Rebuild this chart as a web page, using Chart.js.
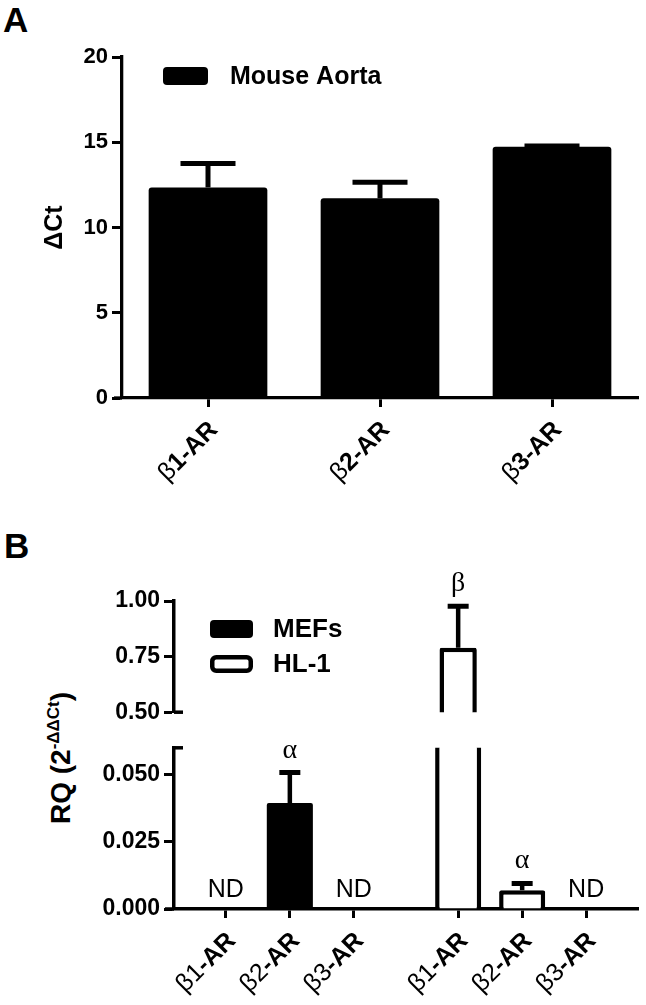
<!DOCTYPE html>
<html>
<head>
<meta charset="utf-8">
<script src="https://cdn.jsdelivr.net/npm/chart.js@4.4.0/dist/chart.umd.min.js"></script>
<style>
  html, body { margin: 0; padding: 0; background: #fff; }
  body { width: 646px; height: 1005px; position: relative; overflow: hidden; font-family: "Liberation Sans", Arial, sans-serif; }
  canvas { position: absolute; left: 0; }
  .panel { position: absolute; font: bold 35px "Liberation Sans", Arial, sans-serif; line-height: 35px; color: #000; }
  #rqTitle { position: absolute; left: -90px; top: 743px; width: 300px; height: 30px; line-height: 30px;
             text-align: center; font: bold 28px "Liberation Sans", Arial, sans-serif; color: #000;
             transform: rotate(-90deg); white-space: nowrap; }
  #rqTitle sup { font-size: 17px; line-height: 0; vertical-align: 11px; }
</style>
</head>
<body>
<div class="panel" style="left:3px;top:2px">A</div>
<div class="panel" style="left:4px;top:528px">B</div>
<div id="rqTitle">RQ (2<sup>-ΔΔCt</sup>)</div>
<canvas id="chartA" width="646" height="500" style="top:0"></canvas>
<canvas id="chartBU" width="646" height="190" style="top:540px"></canvas>
<canvas id="chartBL" width="646" height="275" style="top:730px"></canvas>
<script>
// ---- panel A: mouse aorta, delta Ct ----
const aCategories = ["β1-AR", "β2-AR", "β3-AR"];
const aortaMeans = [12.35, 11.71, 14.73];
const aortaErrTops = [13.76, 12.65, 14.78];   // mean + SEM
const aTicks = [0, 5, 10, 15, 20];

// ---- panel B: RQ in MEFs and HL-1 (null = not detected) ----
const bCategories = ["β1-AR", "β2-AR", "β3-AR"];
const mefMeans = [null, 0.0395, null];
const mefErrTops = [null, 0.0508, null];
const mefMarks = ["ND", "α", "ND"];
const hl1Means = [0.79, 0.007, null];
const hl1ErrTops = [0.976, 0.0095, null];
const hl1Marks = ["β", "α", "ND"];
const upperTicks = [0.5, 0.75, 1.0];
const lowerTicks = [0, 0.025, 0.05];

const INK = "#000";
const SANS = '"Liberation Sans", Arial, sans-serif';
Chart.defaults.font.family = SANS;
Chart.defaults.color = INK;
Chart.defaults.animation = false;

// gap between the MEFs group and the HL-1 group, in bar slots
const GROUP_GAP = 0.63;
const xPos = (group, i) => 1 + group * (bCategories.length + GROUP_GAP) + i;
const bTickPos = [0, 1].flatMap(g => bCategories.map((c, i) => xPos(g, i)));

function splitLabel(label, mode) {
  const cut = mode === "greek" ? 1 : label.indexOf("-");
  return [label.slice(0, cut), label.slice(cut)];
}

// error whiskers (clipped to the plot) and ND / α / β notes
const barNotes = {
  id: "barNotes",
  afterDatasetsDraw(chart, args, o) {
    const {ctx, chartArea: a} = chart;
    const xs = chart.scales.x, ys = chart.scales.y;
    ctx.save();
    ctx.beginPath();
    ctx.rect(a.left, a.top, a.right - a.left, a.bottom - a.top);
    ctx.clip();
    ctx.strokeStyle = INK;
    chart.data.datasets.forEach((ds, di) => {
      if (!ds.errTops) return;
      chart.getDatasetMeta(di).data.forEach((bar, i) => {
        const top = ds.errTops[i];
        if (top == null) return;
        const ye = ys.getPixelForValue(top);
        ctx.lineWidth = o.lineWidth;
        ctx.beginPath(); ctx.moveTo(bar.x, bar.y); ctx.lineTo(bar.x, ye); ctx.stroke();
        ctx.lineWidth = o.capThick;
        ctx.beginPath(); ctx.moveTo(bar.x - o.capWidth / 2, ye); ctx.lineTo(bar.x + o.capWidth / 2, ye); ctx.stroke();
      });
    });
    ctx.restore();

    ctx.save();
    ctx.fillStyle = INK;
    ctx.textAlign = "center";
    ctx.textBaseline = "alphabetic";
    chart.data.datasets.forEach(ds => {
      if (!ds.marks) return;
      ds.marks.forEach((m, i) => {
        if (!m) return;
        const pt = ds.data[i];
        const ref = ds.errTops[i] ?? pt.y ?? 0;
        if (ref < ys.min || ref > ys.max) return;
        const greek = /[α-ω]/.test(m);
        ctx.font = greek ? `${o.greekSize}px "Liberation Serif", serif` : `${o.ndSize}px ${SANS}`;
        ctx.fillText(m, xs.getPixelForValue(pt.x), ys.getPixelForValue(ref) - (greek ? o.greekGap : o.ndGap));
      });
    });
    ctx.restore();
  }
};

// legend boxes drawn inside the plot
const boxLegend = {
  id: "boxLegend",
  afterDraw(chart, args, o) {
    if (!o.show) return;
    const {ctx} = chart;
    ctx.save();
    ctx.font = `bold ${o.size}px ${SANS}`;
    ctx.textBaseline = "middle";
    ctx.textAlign = "left";
    chart.data.datasets.forEach((ds, i) => {
      const y = o.y + i * o.rowGap;
      const bw = ds.borderWidth || 0;
      ctx.beginPath();
      ctx.roundRect(o.x + bw / 2, y + bw / 2, o.boxW - bw, o.boxH - bw, o.radius);
      ctx.fillStyle = ds.backgroundColor;
      ctx.fill();
      if (bw) { ctx.lineWidth = bw; ctx.strokeStyle = ds.borderColor; ctx.stroke(); }
      ctx.fillStyle = INK;
      ctx.fillText(ds.label, o.textX, y + o.boxH / 2 + 1);
    });
    ctx.restore();
  }
};

// rotated category labels, Greek part in regular weight
const xLabels = {
  id: "xLabels",
  afterDraw(chart, args, o) {
    if (!o.labels) return;
    const {ctx} = chart, sc = chart.scales.x;
    ctx.save();
    ctx.fillStyle = INK;
    ctx.textAlign = "right";
    ctx.textBaseline = "middle";
    sc.ticks.forEach((t, i) => {
      const [thin, bold] = splitLabel(o.labels[i], o.split);
      ctx.save();
      ctx.translate(sc.getPixelForTick(i) + o.dx, sc.top + o.dy);
      ctx.rotate(-Math.PI / 4);
      ctx.font = `bold ${o.size}px ${SANS}`;
      ctx.fillText(bold, 0, 0);
      const w = ctx.measureText(bold).width;
      ctx.font = `${o.size}px ${SANS}`;
      ctx.fillText(thin, -w, 0);
      ctx.restore();
    });
    ctx.restore();
  }
};

// x axis stub left of the y axis, and the axis-break marks
const axisDecor = {
  id: "axisDecor",
  afterDraw(chart, args, o) {
    const {ctx, chartArea: a} = chart;
    ctx.save();
    ctx.strokeStyle = INK;
    ctx.lineWidth = o.lineWidth;
    if (o.stub) {
      ctx.beginPath(); ctx.moveTo(a.left - o.stub, a.bottom); ctx.lineTo(a.left, a.bottom); ctx.stroke();
    }
    if (o.breakAt) {
      const y = o.breakAt === "top" ? a.top : a.bottom;
      ctx.beginPath(); ctx.moveTo(a.left, y); ctx.lineTo(a.left + o.breakLen, y); ctx.stroke();
    }
    ctx.restore();
  }
};

Chart.register(barNotes, boxLegend, xLabels, axisDecor);

const tickGrid = len => ({ display: true, drawOnChartArea: false, offset: false, drawTicks: true,
                           tickLength: len, tickWidth: 3, tickColor: INK });
const axisBorder = w => ({ display: true, color: INK, width: w });

// ---------- panel A ----------
new Chart(document.getElementById("chartA"), {
  type: "bar",
  data: {
    labels: aCategories,
    datasets: [{
      label: "Mouse Aorta", data: aortaMeans, errTops: aortaErrTops,
      backgroundColor: INK, borderWidth: 0, borderRadius: 3,
      barPercentage: 0.69, categoryPercentage: 1
    }]
  },
  options: {
    responsive: false,
    layout: { padding: { left: 0, right: 8, top: 57, bottom: 0 } },
    plugins: {
      legend: { display: false }, tooltip: { enabled: false },
      barNotes: { lineWidth: 5, capThick: 5, capWidth: 55 },
      boxLegend: { show: true, x: 163, y: 67, boxW: 45, boxH: 18, radius: 4, textX: 230, rowGap: 34, size: 25 },
      xLabels: { labels: aCategories, split: "greek", size: 25, dx: 6, dy: 28 },
      axisDecor: { lineWidth: 3.3, stub: 8 }
    },
    scales: {
      x: {
        grid: tickGrid(9), border: axisBorder(3.3),
        ticks: { display: false },
        afterFit: s => { s.height = 102; }
      },
      y: {
        min: 0, max: 20,
        afterBuildTicks: s => { s.ticks = aTicks.map(v => ({ value: v })); },
        grid: tickGrid(10), border: axisBorder(3.3),
        ticks: { font: { size: 22, weight: "bold" }, padding: 4 },
        title: { display: true, text: "ΔCt", font: { size: 25, weight: "bold" }, padding: { top: 40 } },
        afterFit: s => { s.width = 122; }
      }
    }
  }
});

// ---------- panel B (broken axis: two stacked charts) ----------
const X_MIN = 0.19, X_MAX = 7.44;
function bDatasets() {
  return [
    { label: "MEFs", data: mefMeans.map((v, i) => ({ x: xPos(0, i), y: v })),
      errTops: mefErrTops, marks: mefMarks,
      backgroundColor: INK, borderWidth: 0, borderRadius: 2 },
    { label: "HL-1", data: hl1Means.map((v, i) => ({ x: xPos(1, i), y: v })),
      errTops: hl1ErrTops, marks: hl1Marks,
      backgroundColor: "#fff", borderColor: INK, borderWidth: 4.5, borderRadius: 2 }
  ];
}
const bBarOpts = { grouped: false, barPercentage: 0.72, categoryPercentage: 1, clip: 0 };
const bNotes = { lineWidth: 4.5, capThick: 5, capWidth: 21, greekSize: 28, greekGap: 15, ndSize: 25, ndGap: 12 };

new Chart(document.getElementById("chartBU"), {
  type: "bar",
  data: { datasets: bDatasets() },
  options: {
    responsive: false,
    datasets: { bar: bBarOpts },
    layout: { padding: { left: 0, right: 8, top: 61, bottom: 16 } },
    plugins: {
      legend: { display: false }, tooltip: { enabled: false },
      barNotes: bNotes,
      boxLegend: { show: true, x: 210, y: 80, boxW: 43, boxH: 18, radius: 4, textX: 273, rowGap: 35, size: 26 },
      axisDecor: { lineWidth: 3.5, breakAt: "bottom", breakLen: 9 }
    },
    scales: {
      x: { type: "linear", min: X_MIN, max: X_MAX, offset: false, display: false },
      y: {
        min: 0.5, max: 1.0,
        afterBuildTicks: s => { s.ticks = upperTicks.map(v => ({ value: v })); },
        grid: tickGrid(10), border: axisBorder(3.5),
        ticks: { font: { size: 23, weight: "bold" }, padding: 4, callback: v => v.toFixed(2) },
        afterFit: s => { s.width = 174; }
      }
    }
  }
});

new Chart(document.getElementById("chartBL"), {
  type: "bar",
  data: { datasets: bDatasets() },
  options: {
    responsive: false,
    datasets: { bar: bBarOpts },
    layout: { padding: { left: 0, right: 8, top: 8, bottom: 0 } },
    plugins: {
      legend: { display: false }, tooltip: { enabled: false },
      barNotes: bNotes,
      boxLegend: { show: false },
      xLabels: { labels: [...bCategories, ...bCategories], split: "dash", size: 25, dx: 6, dy: 28 },
      axisDecor: { lineWidth: 3.5, stub: 9, breakAt: "top", breakLen: 9 }
    },
    scales: {
      x: {
        type: "linear", min: X_MIN, max: X_MAX, offset: false,
        afterBuildTicks: s => { s.ticks = bTickPos.map(v => ({ value: v })); },
        grid: tickGrid(9), border: axisBorder(3.5),
        ticks: { display: false },
        afterFit: s => { s.height = 96; }
      },
      y: {
        min: 0, max: 0.06,
        afterBuildTicks: s => { s.ticks = lowerTicks.map(v => ({ value: v })); },
        grid: tickGrid(10), border: axisBorder(3.5),
        ticks: { font: { size: 23, weight: "bold" }, padding: 4, callback: v => v.toFixed(3) },
        afterFit: s => { s.width = 174; }
      }
    }
  }
});
</script>
</body>
</html>
